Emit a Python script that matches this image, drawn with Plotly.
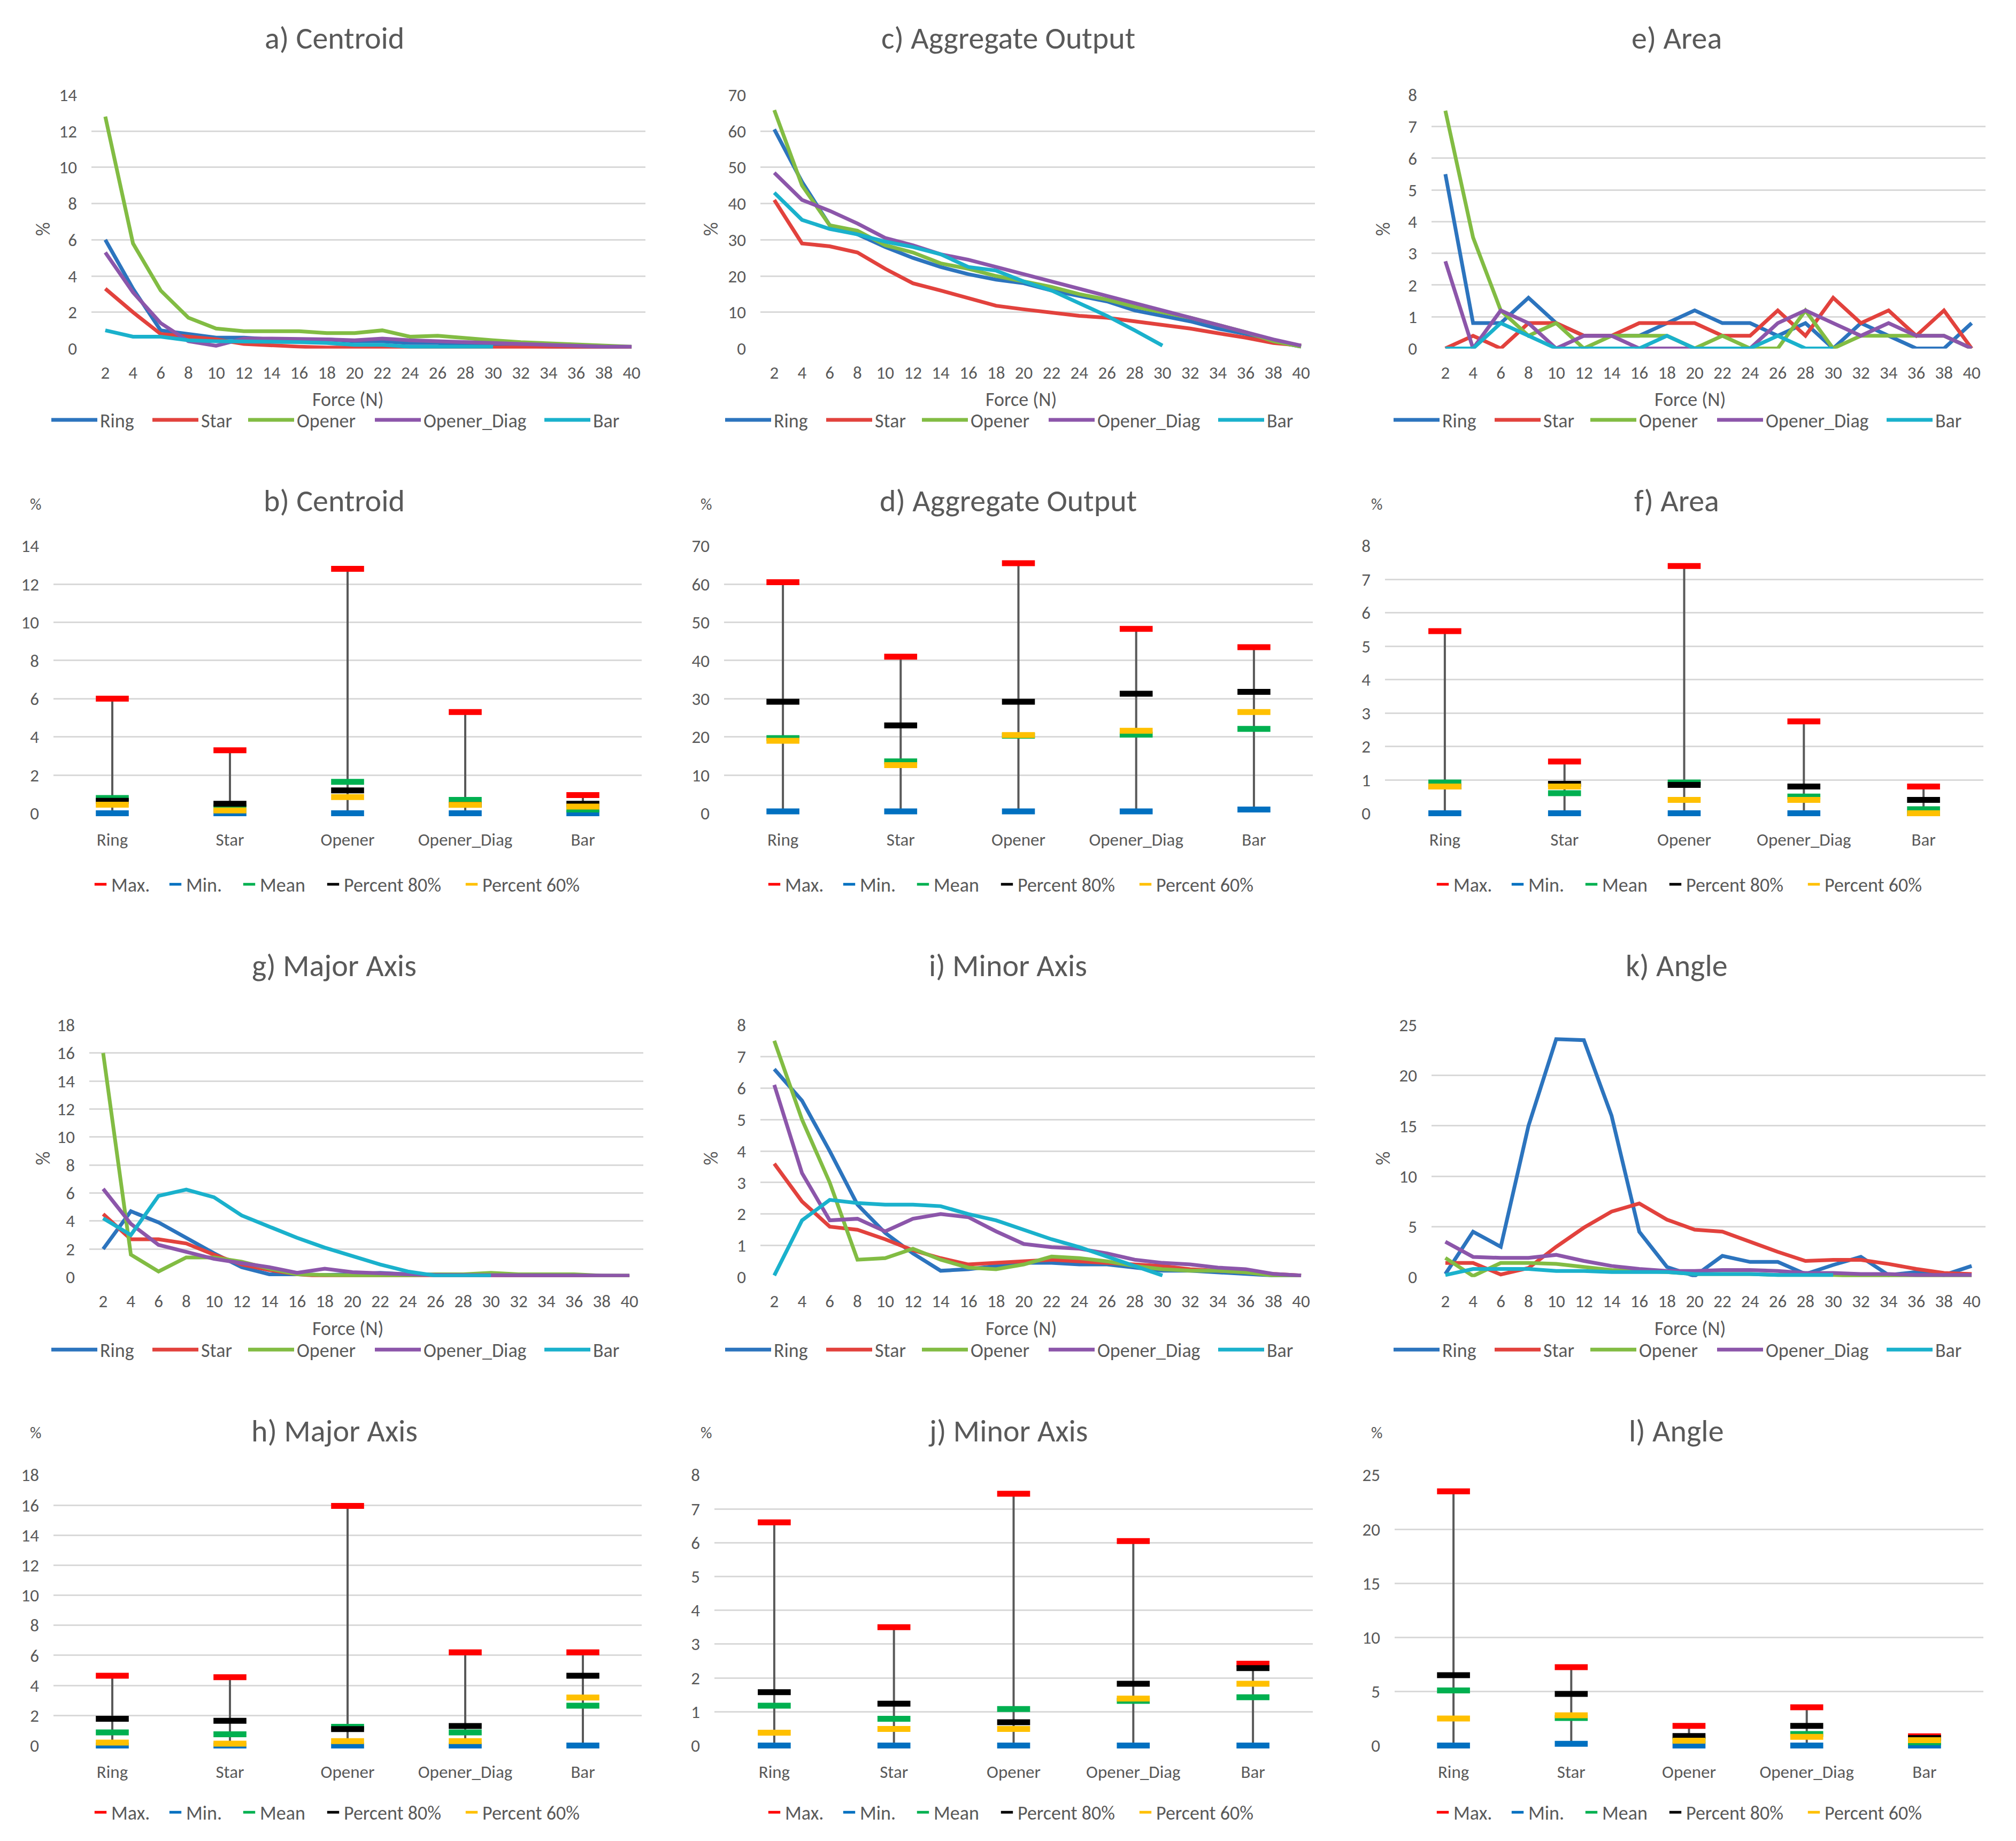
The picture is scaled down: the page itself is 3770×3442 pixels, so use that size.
import plotly.graph_objects as go

W, H = 3770, 3442
FONT = "Carlito, Lato, sans-serif"
TXT = "#595959"

forces = [str(f) for f in range(2, 42, 2)]
shapes = ["Ring", "Star", "Opener", "Opener_Diag", "Bar"]
stat_names = ["Max.", "Min.", "Mean", "Percent 80%", "Percent 60%"]

# a) Centroid
ring_a = [6.0, 3.3, 1.0, 0.8, 0.6, 0.6, 0.5, 0.5, 0.5, 0.4, 0.4, 0.3, 0.3, 0.2, 0.2, 0.15, 0.1, 0.1, 0.1, 0.05]
star_a = [3.3, 2.0, 0.8, 0.65, 0.5, 0.25, 0.15, 0.1, 0.05, 0.05, 0.05, 0.05, 0.05, 0.05, 0.05, 0.05, 0.05, 0.05, 0.05, 0.05]
opener_a = [12.8, 5.8, 3.2, 1.7, 1.1, 0.95, 0.95, 0.95, 0.85, 0.85, 1.0, 0.65, 0.7, 0.55, 0.45, 0.35, 0.3, 0.25, 0.15, 0.1]
diag_a = [5.3, 3.1, 1.4, 0.4, 0.15, 0.55, 0.55, 0.55, 0.5, 0.45, 0.55, 0.45, 0.4, 0.3, 0.25, 0.2, 0.15, 0.15, 0.1, 0.1]
bar_a = [1.0, 0.65, 0.65, 0.45, 0.4, 0.4, 0.4, 0.35, 0.3, 0.2, 0.2, 0.1, 0.1, 0.1, 0.1]

# c) Aggregate Output
ring_c = [60.5, 46, 34, 31.5, 28, 25, 22.5, 20.5, 19, 18, 16, 14.5, 13, 10.5, 9, 7.5, 5.5, 4, 2, 0.5]
star_c = [41, 29, 28.2, 26.5, 22, 18, 16, 14, 11.8, 10.8, 9.8, 9, 8.5, 7.5, 6.5, 5.5, 4.2, 3, 1.5, 0.8]
opener_c = [65.8, 45, 34, 32.5, 28.5, 26.5, 23.5, 22, 20, 18.5, 17, 15, 13.5, 11.5, 10, 8.5, 6.5, 4.5, 2, 0.5]
diag_c = [48.5, 41, 38, 34.5, 30.5, 28.5, 26, 24.5, 22.5, 20.5, 18.5, 16.5, 14.5, 12.5, 10.5, 8.5, 6.5, 4.5, 2.5, 0.8]
bar_c = [43, 35.5, 33, 31.5, 29.5, 28, 26, 22.5, 21.5, 18.5, 16, 12.5, 9, 5, 0.8]

# e) Area
ring_e = [5.5, 0.8, 0.8, 1.6, 0.8, 0.4, 0.4, 0.4, 0.8, 1.2, 0.8, 0.8, 0.4, 0.8, 0, 0.8, 0.4, 0, 0, 0.8]
star_e = [0, 0.4, 0, 0.8, 0.8, 0.4, 0.4, 0.8, 0.8, 0.8, 0.4, 0.4, 1.2, 0.4, 1.6, 0.8, 1.2, 0.4, 1.2, 0]
opener_e = [7.5, 3.5, 1.2, 0.4, 0.8, 0, 0.4, 0.4, 0.4, 0, 0.4, 0, 0, 1.2, 0, 0.4, 0.4, 0.4, 0.4, 0]
diag_e = [2.75, 0, 1.2, 0.8, 0, 0.4, 0.4, 0, 0, 0, 0, 0, 0.8, 1.2, 0.8, 0.4, 0.8, 0.4, 0.4, 0]
bar_e = [0, 0, 0.8, 0.4, 0, 0, 0, 0, 0.4, 0, 0, 0, 0.4, 0, 0]

# g) Major Axis
ring_g = [2.0, 4.7, 3.9, 2.8, 1.7, 0.7, 0.2, 0.2, 0.15, 0.2, 0.3, 0.2, 0.2, 0.2, 0.15, 0.1, 0.1, 0.1, 0.1, 0.05]
star_g = [4.5, 2.7, 2.7, 2.4, 1.6, 0.9, 0.5, 0.2, 0.05, 0.05, 0.05, 0.05, 0.05, 0.05, 0.05, 0.05, 0.05, 0.05, 0.05, 0.05]
opener_g = [16.0, 1.6, 0.4, 1.4, 1.4, 1.1, 0.6, 0.2, 0.15, 0.1, 0.1, 0.1, 0.2, 0.2, 0.3, 0.2, 0.2, 0.2, 0.1, 0.1]
diag_g = [6.3, 3.8, 2.3, 1.8, 1.3, 1.0, 0.7, 0.3, 0.6, 0.35, 0.25, 0.2, 0.15, 0.15, 0.1, 0.1, 0.1, 0.1, 0.1, 0.1]
bar_g = [4.2, 3.0, 5.8, 6.25, 5.7, 4.4, 3.6, 2.8, 2.1, 1.5, 0.9, 0.4, 0.1, 0.1, 0.1]

# i) Minor Axis
ring_i = [6.6, 5.6, 4.0, 2.3, 1.4, 0.75, 0.2, 0.25, 0.35, 0.45, 0.45, 0.4, 0.4, 0.3, 0.2, 0.2, 0.15, 0.1, 0.05, 0.05]
star_i = [3.6, 2.4, 1.6, 1.5, 1.2, 0.85, 0.6, 0.4, 0.45, 0.5, 0.55, 0.5, 0.45, 0.4, 0.35, 0.25, 0.2, 0.15, 0.1, 0.05]
opener_i = [7.5, 5.0, 3.0, 0.55, 0.6, 0.9, 0.55, 0.3, 0.25, 0.4, 0.65, 0.6, 0.5, 0.35, 0.25, 0.2, 0.2, 0.15, 0.05, 0.05]
diag_i = [6.1, 3.3, 1.8, 1.85, 1.45, 1.85, 2.0, 1.9, 1.45, 1.05, 0.95, 0.9, 0.75, 0.55, 0.45, 0.4, 0.3, 0.25, 0.1, 0.05]
bar_i = [0.05, 1.8, 2.45, 2.35, 2.3, 2.3, 2.25, 2.0, 1.8, 1.5, 1.2, 0.95, 0.65, 0.35, 0.05]

# k) Angle
ring_k = [0.3, 4.5, 3.0, 15.0, 23.6, 23.5, 16.0, 4.5, 1.0, 0.1, 2.1, 1.5, 1.5, 0.3, 1.2, 2.0, 0.2, 0.5, 0.2, 1.1]
star_k = [1.4, 1.4, 0.25, 0.9, 3.0, 4.9, 6.5, 7.3, 5.7, 4.7, 4.5, 3.5, 2.5, 1.6, 1.7, 1.7, 1.3, 0.8, 0.4, 0.3]
opener_k = [1.9, 0.1, 1.4, 1.4, 1.3, 1.0, 0.7, 0.6, 0.5, 0.3, 0.3, 0.3, 0.2, 0.2, 0.2, 0.1, 0.1, 0.1, 0.1, 0.1]
diag_k = [3.5, 2.0, 1.9, 1.9, 2.2, 1.6, 1.1, 0.8, 0.6, 0.6, 0.7, 0.7, 0.6, 0.4, 0.4, 0.3, 0.3, 0.2, 0.2, 0.2]
bar_k = [0.2, 0.8, 0.8, 0.8, 0.6, 0.6, 0.5, 0.5, 0.5, 0.3, 0.3, 0.3, 0.2, 0.2, 0.2]

# b) Centroid summary  (order: Ring, Star, Opener, Opener_Diag, Bar)
max_b = [6.0, 3.3, 12.8, 5.3, 0.95]
min_b = [0, 0, 0, 0, 0]
mean_b = [0.8, 0.3, 1.65, 0.7, 0.2]
p80_b = [0.65, 0.5, 1.2, 0.45, 0.5]
p60_b = [0.45, 0.15, 0.85, 0.44, 0.35]

# d) Aggregate Output summary
max_d = [60.5, 41, 65.5, 48.3, 43.5]
min_d = [0.5, 0.5, 0.5, 0.5, 1.0]
mean_d = [19.7, 13.6, 20.3, 20.6, 22.1]
p80_d = [29.2, 23, 29.2, 31.3, 31.8]
p60_d = [19.0, 12.6, 20.5, 21.6, 26.5]

# f) Area summary
max_f = [5.45, 1.55, 7.4, 2.75, 0.8]
min_f = [0, 0, 0, 0, 0]
mean_f = [0.92, 0.6, 0.92, 0.5, 0.12]
p80_f = [0.8, 0.88, 0.85, 0.8, 0.4]
p60_f = [0.8, 0.8, 0.4, 0.4, 0.0]

# h) Major Axis summary
max_h = [4.65, 4.55, 15.95, 6.2, 6.2]
min_h = [0, 0, 0, 0, 0]
mean_h = [0.87, 0.75, 1.25, 0.87, 2.65]
p80_h = [1.78, 1.65, 1.1, 1.3, 4.65]
p60_h = [0.2, 0.13, 0.3, 0.3, 3.2]

# j) Minor Axis summary
max_j = [6.6, 3.5, 7.45, 6.05, 2.42]
min_j = [0, 0, 0, 0, 0]
mean_j = [1.18, 0.79, 1.08, 1.32, 1.43]
p80_j = [1.58, 1.24, 0.69, 1.83, 2.29]
p60_j = [0.38, 0.49, 0.49, 1.39, 1.83]

# l) Angle summary
max_l = [23.5, 7.24, 1.82, 3.54, 0.85]
min_l = [0, 0.16, 0, 0, 0]
mean_l = [5.1, 2.55, 0.5, 1.07, 0.3]
p80_l = [6.5, 4.77, 0.88, 1.82, 0.7]
p60_l = [2.5, 2.8, 0.45, 0.8, 0.5]

line_colors = ["#2C74BE", "#E2423D", "#82BC43", "#8C56AA", "#1AB1CC"]
stat_colors = ["#FF0000", "#0070C0", "#00B050", "#000000", "#FFC000"]
# legend entry widths (px) so entries are spaced like the original
line_leg_w = [88, 78, 136, 216, 55]
stat_leg_w = [95, 93, 112, 214, 185]

# layout geometry (pixels)
rows = {
    0: dict(title_y=53, top=160, zero=640, legend_y=775, xtitle_y=736, pct_y=414),
    1: dict(title_y=928, top=1013, zero=1519, legend_y=1653, pct_y=934),
    2: dict(title_y=1807, top=1919, zero=2396, legend_y=2533, xtitle_y=2493, pct_y=2171),
    3: dict(title_y=2687, top=2770, zero=3282, legend_y=3408, pct_y=2690),
}
col_x0 = [-5, 1255, 2505]

panels = [
    dict(title="a) Centroid", kind="line", data=[ring_a, star_a, opener_a, diag_a, bar_a], ymax=14, dtick=2, row=0, col=0, x=(171, 1207), pct_x=81),
    dict(title="c) Aggregate Output", kind="line", data=[ring_c, star_c, opener_c, diag_c, bar_c], ymax=70, dtick=10, row=0, col=1, x=(1422, 2459), pct_x=1330),
    dict(title="e) Area", kind="line", data=[ring_e, star_e, opener_e, diag_e, bar_e], ymax=8, dtick=1, row=0, col=2, x=(2677, 3713), pct_x=2587),
    dict(title="b) Centroid", kind="box", data=[max_b, min_b, mean_b, p80_b, p60_b], ymax=14, dtick=2, row=1, col=0, x=(100, 1200), pct_x=66),
    dict(title="d) Aggregate Output", kind="box", data=[max_d, min_d, mean_d, p80_d, p60_d], ymax=70, dtick=10, row=1, col=1, x=(1354, 2455), pct_x=1320),
    dict(title="f) Area", kind="box", data=[max_f, min_f, mean_f, p80_f, p60_f], ymax=8, dtick=1, row=1, col=2, x=(2590, 3709), pct_x=2574),
    dict(title="g) Major Axis", kind="line", data=[ring_g, star_g, opener_g, diag_g, bar_g], ymax=18, dtick=2, row=2, col=0, x=(167, 1203), pct_x=81),
    dict(title="i) Minor Axis", kind="line", data=[ring_i, star_i, opener_i, diag_i, bar_i], ymax=8, dtick=1, row=2, col=1, x=(1422, 2459), pct_x=1330),
    dict(title="k) Angle", kind="line", data=[ring_k, star_k, opener_k, diag_k, bar_k], ymax=25, dtick=5, row=2, col=2, x=(2677, 3713), pct_x=2587),
    dict(title="h) Major Axis", kind="box", data=[max_h, min_h, mean_h, p80_h, p60_h], ymax=18, dtick=2, row=3, col=0, x=(100, 1200), pct_x=66),
    dict(title="j) Minor Axis", kind="box", data=[max_j, min_j, mean_j, p80_j, p60_j], ymax=8, dtick=1, row=3, col=1, x=(1336, 2455), pct_x=1320),
    dict(title="l) Angle", kind="box", data=[max_l, min_l, mean_l, p80_l, p60_l], ymax=25, dtick=5, row=3, col=2, x=(2608, 3709), pct_x=2574),
]

fig = go.Figure()
layout = dict(
    width=W, height=H, margin=dict(l=0, r=0, t=0, b=0),
    paper_bgcolor="white", plot_bgcolor="white",
    font=dict(family=FONT, color=TXT, size=32),
    annotations=[],
)

TICK = 33
LEG = 36
TITLE = 58

for i, p in enumerate(panels):
    n = i + 1
    xa = "x" if n == 1 else f"x{n}"
    ya = "y" if n == 1 else f"y{n}"
    leg = "legend" if n == 1 else f"legend{n}"
    g = rows[p["row"]]
    x0, x1 = p["x"]
    cx0 = col_x0[p["col"]]

    if p["kind"] == "line":
        for name, vals, colr, lw in zip(shapes, p["data"], line_colors, line_leg_w):
            fig.add_trace(go.Scatter(
                x=forces[:len(vals)], y=vals, mode="lines", name=name,
                line=dict(color=colr, width=7), xaxis=xa, yaxis=ya, legend=leg,
                legendwidth=lw, cliponaxis=False, hoverinfo="skip"))
        cats = forces
    else:
        mx, mn = p["data"][0], p["data"][1]
        vx, vy = [], []
        for s, lo, hi in zip(shapes, mn, mx):
            vx += [s, s, None]
            vy += [lo, hi, None]
        fig.add_trace(go.Scatter(
            x=vx, y=vy, mode="lines", line=dict(color="#595959", width=4),
            showlegend=False, xaxis=xa, yaxis=ya, legend=leg, hoverinfo="skip",
            cliponaxis=False))
        for name, vals, colr, lw in zip(stat_names, p["data"], stat_colors, stat_leg_w):
            fig.add_trace(go.Scatter(
                x=shapes, y=vals, mode="markers", name=name,
                marker=dict(symbol="line-ew", size=44, color=colr,
                            line=dict(width=11, color=colr)),
                xaxis=xa, yaxis=ya, legend=leg, legendwidth=lw,
                cliponaxis=False, hoverinfo="skip"))
        cats = shapes

    ymax = p["ymax"]
    eps = ymax * 0.0005
    xkey = "xaxis" if n == 1 else f"xaxis{n}"
    ykey = "yaxis" if n == 1 else f"yaxis{n}"
    layout[xkey] = dict(
        domain=[x0 / W, x1 / W], anchor=ya, type="category",
        categoryorder="array", categoryarray=cats,
        range=[-0.5, len(cats) - 0.5], showgrid=False, showline=False,
        zeroline=False, ticks="", tickangle=0,
        tickfont=dict(size=TICK, color=TXT, family=FONT),
        ticklabelstandoff=22 if p["kind"] == "line" else 26, fixedrange=True)
    layout[ykey] = dict(
        domain=[1 - g["zero"] / H, 1 - g["top"] / H], anchor=xa,
        range=[-eps, ymax + eps], dtick=p["dtick"], tick0=0,
        showgrid=True, gridcolor="#D9D9D9", gridwidth=3,
        zeroline=False, showline=False, ticks="",
        tickfont=dict(size=TICK, color=TXT, family=FONT),
        ticklabelstandoff=26, fixedrange=True)

    layout[leg] = dict(
        orientation="h", x=(cx0 + 635) / W, xanchor="center",
        y=1 - g["legend_y"] / H, yanchor="middle",
        font=dict(size=LEG, color=TXT, family=FONT),
        itemwidth=86 if p["kind"] == "line" else 30,
        bgcolor="rgba(0,0,0,0)", itemclick=False, itemdoubleclick=False)

    layout["annotations"].append(dict(
        text=p["title"], x=(cx0 + 630) / W, y=1 - g["title_y"] / H,
        xref="paper", yref="paper", xanchor="center", yanchor="middle",
        showarrow=False, font=dict(size=TITLE, color=TXT, family=FONT)))

    if p["kind"] == "line":
        layout["annotations"].append(dict(
            text="Force (N)", x=(cx0 + 655) / W, y=1 - g["xtitle_y"] / H,
            xref="paper", yref="paper", xanchor="center", yanchor="middle",
            showarrow=False, font=dict(size=LEG, color=TXT, family=FONT)))
        layout["annotations"].append(dict(
            text="%", x=p["pct_x"] / W, y=1 - g["pct_y"] / H, textangle=-90,
            xref="paper", yref="paper", xanchor="center", yanchor="middle",
            showarrow=False, font=dict(size=LEG, color=TXT, family=FONT)))
    else:
        layout["annotations"].append(dict(
            text="%", x=p["pct_x"] / W, y=1 - g["pct_y"] / H,
            xref="paper", yref="paper", xanchor="center", yanchor="middle",
            showarrow=False, font=dict(size=30, color=TXT, family=FONT)))

fig.update_layout(**layout)
fig.write_html("out.html", config={"displayModeBar": False},
               post_script="document.body.style.margin='0';")
